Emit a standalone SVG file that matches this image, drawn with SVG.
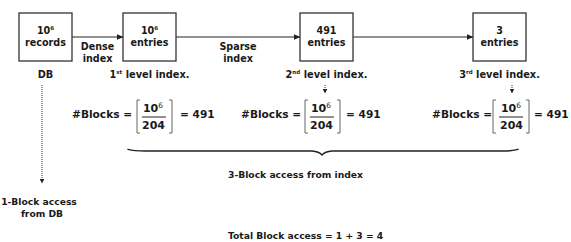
<svg xmlns="http://www.w3.org/2000/svg" width="571" height="242" viewBox="0 0 571 242">
<defs>
<style>
.box{fill:#fff;stroke:#333;stroke-width:1.3}
.t{font-family:"DejaVu Sans",Verdana,sans-serif;font-weight:bold;fill:#1a1a1a;text-anchor:middle}
.bx{font-size:9.6px}
.lv{font-size:9.8px}
.fm{font-size:10.6px}
.fr{font-size:11px}
.sm{font-size:9.2px}
.ln{stroke:#222;stroke-width:1;fill:none}
.dot{stroke:#333;stroke-width:1;fill:none;stroke-dasharray:1 1}
.brk{stroke:#666;stroke-width:1;fill:none}
</style>
<marker id="ah" markerWidth="7" markerHeight="6" refX="6.5" refY="3" orient="auto" markerUnits="userSpaceOnUse">
<path d="M0,0 L7,3 L0,6 Z" fill="#222"/>
</marker>
<marker id="ahs" markerWidth="5" markerHeight="5" refX="4.5" refY="2.5" orient="auto" markerUnits="userSpaceOnUse">
<path d="M0,0 L5,2.5 L0,5 Z" fill="#222"/>
</marker>
</defs>

<g id="connectors">
<line class="ln" x1="72" y1="37" x2="123" y2="37" marker-end="url(#ah)"/>
<line class="ln" x1="176" y1="37" x2="300" y2="37" marker-end="url(#ah)"/>
<line class="ln" x1="353" y1="37" x2="473" y2="37" marker-end="url(#ah)"/>
<line class="dot" x1="42" y1="85" x2="42" y2="183" marker-end="url(#ahs)"/>
<line class="dot" x1="325" y1="85" x2="325" y2="93" marker-end="url(#ahs)"/>
<line class="dot" x1="512" y1="85" x2="512" y2="93" marker-end="url(#ahs)"/>
<text class="t bx" x="97.5" y="50">Dense</text>
<text class="t bx" x="97.5" y="62">index</text>
<text class="t bx" x="238" y="50">Sparse</text>
<text class="t bx" x="238" y="62">index</text>
</g>

<g id="node-db">
<rect class="box" x="19" y="13" width="53" height="48"/>
<text class="t bx" x="45.5" y="34">10<tspan font-size="5.5" dy="-4">6</tspan></text>
<text class="t bx" x="45.5" y="46">records</text>
<text class="t lv" x="45.5" y="78">DB</text>
</g>

<g id="node-level1">
<rect class="box" x="123" y="13" width="53" height="48"/>
<text class="t bx" x="149.5" y="34">10<tspan font-size="5.5" dy="-4">6</tspan></text>
<text class="t bx" x="149.5" y="46">entries</text>
<text class="t lv" x="149.5" y="78">1<tspan font-size="5.5" dy="-4">st</tspan><tspan dy="4"> level index.</tspan></text>
</g>

<g id="node-level2">
<rect class="box" x="300" y="13" width="53" height="48"/>
<text class="t bx" x="326.5" y="34">491</text>
<text class="t bx" x="326.5" y="46">entries</text>
<text class="t lv" x="326.5" y="78">2<tspan font-size="5.5" dy="-4">nd</tspan><tspan dy="4"> level index.</tspan></text>
</g>

<g id="node-level3">
<rect class="box" x="473" y="13" width="53" height="48"/>
<text class="t bx" x="499.5" y="34">3</text>
<text class="t bx" x="499.5" y="46">entries</text>
<text class="t lv" x="499.5" y="78">3<tspan font-size="5.5" dy="-4">rd</tspan><tspan dy="4"> level index.</tspan></text>
</g>

<g id="formula1">
<text class="t fm" x="72" y="118" text-anchor="start" style="text-anchor:start">#Blocks =</text>
<path class="brk" d="M140,100 H137 V133 H140 M169,100 H172 V133 H169"/>
<text class="t fr" x="153" y="112">10<tspan font-size="7.5" font-weight="normal" dy="-4">6</tspan></text>
<line class="ln" x1="142" y1="117" x2="166" y2="117"/>
<text class="t fr" x="153.5" y="129">204</text>
<text class="t fm" x="180" y="118" style="text-anchor:start">= 491</text>
</g>

<g id="formula2">
<text class="t fm" x="241" y="118" style="text-anchor:start">#Blocks =</text>
<path class="brk" d="M308,100 H305 V133 H308 M337,100 H340 V133 H337"/>
<text class="t fr" x="321" y="112">10<tspan font-size="7.5" font-weight="normal" dy="-4">6</tspan></text>
<line class="ln" x1="310" y1="117" x2="334" y2="117"/>
<text class="t fr" x="321.5" y="129">204</text>
<text class="t fm" x="346" y="118" style="text-anchor:start">= 491</text>
</g>

<g id="formula3">
<text class="t fm" x="432" y="118" style="text-anchor:start">#Blocks =</text>
<path class="brk" d="M496,100 H493 V133 H496 M526,100 H529 V133 H526"/>
<text class="t fr" x="511" y="112">10<tspan font-size="7.5" font-weight="normal" dy="-4">6</tspan></text>
<line class="ln" x1="499" y1="117" x2="523" y2="117"/>
<text class="t fr" x="511.5" y="129">204</text>
<text class="t fm" x="534" y="118" style="text-anchor:start">= 491</text>
</g>

<g id="brace">
<path d="M128,149.3 Q134,151 145,151 L312,151 Q319,151.5 322,155 Q325,151.5 332,151 L502,151 Q512,151 518,149.3" fill="none" stroke="#222" stroke-width="1.4" stroke-linecap="round"/>
</g>

<g id="labels">
<text class="t sm" x="228" y="178" style="text-anchor:start">3-Block access from index</text>
<text class="t sm" x="39" y="205">1-Block access</text>
<text class="t sm" x="42" y="217">from DB</text>
<text class="t sm" x="228" y="239" style="text-anchor:start">Total Block access = 1 + 3 = 4</text>
</g>
</svg>
